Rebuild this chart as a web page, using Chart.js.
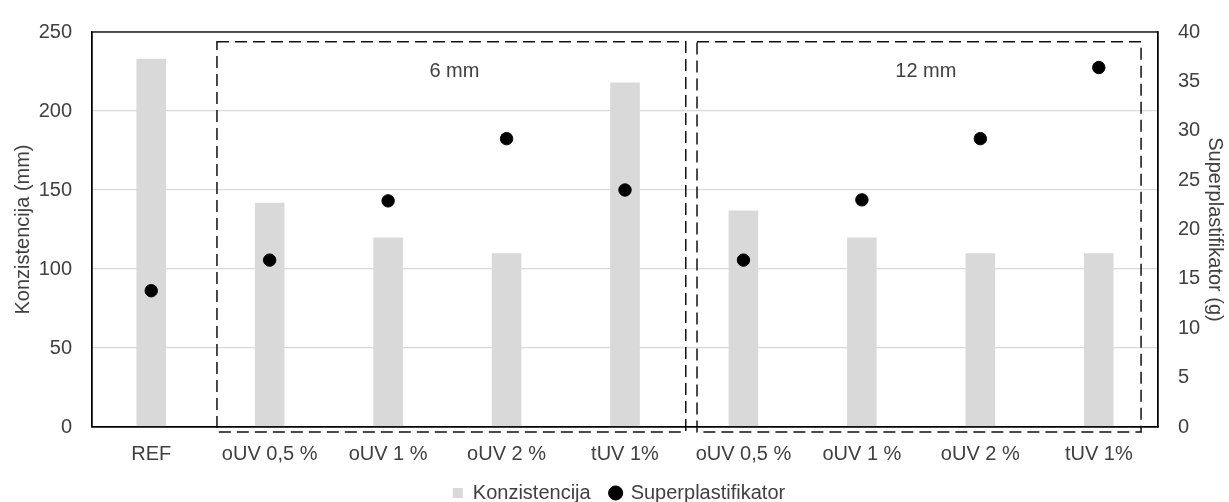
<!DOCTYPE html>
<html>
<head>
<meta charset="utf-8">
<script src="https://cdn.jsdelivr.net/npm/chart.js@4.4.0/dist/chart.umd.min.js"></script>
<style>
  html, body { margin: 0; padding: 0; background: #fff; }
  #wrap { width: 1229px; height: 502px; position: relative; }
</style>
</head>
<body>
<div id="wrap"><canvas id="myChart"></canvas></div>
<script>
// data
const categories = ['REF', 'oUV 0,5 %', 'oUV 1 %', 'oUV 2 %', 'tUV 1%', 'oUV 0,5 %', 'oUV 1 %', 'oUV 2 %', 'tUV 1%'];
const konzistencija = [233, 142, 120, 110, 218, 137, 120, 110, 110];
const superplastifikator = [13.8, 16.9, 22.9, 29.2, 24, 16.9, 23, 29.2, 36.4];
const leftTicks = [0, 250, 50];   // min, max, step
const rightTicks = [0, 40, 5];

// dashed group boxes (category index / left axis units)
const groupNames = ['6 mm', '12 mm'];
const groupFrom = [0.555, 4.608];
const groupTo = [4.513, 8.357];
const groupTop = 243.8;
const groupBottom = -3.2;
const groupLabelAt = [2.56, 6.54];
const groupLabelY = 225;

const textColor = '#404040';
const font = { family: '"Liberation Sans", Arial, sans-serif', size: 20 };

const groupBoxes = {
    id: 'groupBoxes',
    afterDatasetsDraw(chart) {
        const { ctx, scales: { x, y }, chartArea } = chart;
        ctx.save();
        // plot frame
        ctx.strokeStyle = '#000';
        ctx.lineWidth = 1.3;
        ctx.strokeRect(chartArea.left, chartArea.top, chartArea.right - chartArea.left, chartArea.bottom - chartArea.top);

        ctx.setLineDash([12, 6]);
        ctx.lineWidth = 1.5;
        ctx.strokeStyle = '#111';
        groupNames.forEach((name, i) => {
            const x0 = x.getPixelForValue(groupFrom[i]);
            const x1 = x.getPixelForValue(groupTo[i]);
            const y0 = y.getPixelForValue(groupTop);
            const y1 = y.getPixelForValue(groupBottom);
            ctx.strokeRect(x0, y0, x1 - x0, y1 - y0);
        });
        ctx.setLineDash([]);
        ctx.fillStyle = textColor;
        ctx.font = `${font.size}px ${font.family}`;
        ctx.textAlign = 'center';
        ctx.textBaseline = 'middle';
        groupNames.forEach((name, i) => {
            ctx.fillText(name, x.getPixelForValue(groupLabelAt[i]), y.getPixelForValue(groupLabelY));
        });
        ctx.restore();
    }
};

new Chart(document.getElementById('myChart').getContext('2d'), {
    data: {
        labels: categories,
        datasets: [
            {
                type: 'bar',
                label: 'Konzistencija',
                data: konzistencija,
                backgroundColor: '#d9d9d9',
                categoryPercentage: 1,
                barPercentage: 0.25,
                yAxisID: 'y',
                pointStyle: 'rect',
                order: 1,
            },
            {
                type: 'line',
                label: 'Superplastifikator',
                data: superplastifikator,
                showLine: false,
                pointRadius: 6.2,
                pointHoverRadius: 6.2,
                pointBackgroundColor: '#000',
                pointBorderColor: '#000',
                backgroundColor: '#000',
                borderColor: '#000',
                pointStyle: 'circle',
                yAxisID: 'y1',
                order: 0,
            },
        ]
    },
    options: {
        responsive: true,
        maintainAspectRatio: false,
        animation: false,
        layout: { padding: { left: 11, right: 2, top: 25, bottom: 0 } },
        plugins: {
            tooltip: { enabled: false },
            legend: {
                position: 'bottom',
                maxHeight: 39,
                labels: {
                    color: textColor,
                    font,
                    usePointStyle: true,
                    boxHeight: 10,
                    boxWidth: 10,
                    padding: 20,
                    sort: (a, b) => a.datasetIndex - b.datasetIndex,
                }
            }
        },
        scales: {
            x: {
                grid: { display: false, drawTicks: false },
                border: { color: '#000', width: 1.3 },
                ticks: { color: textColor, font, padding: 15, maxRotation: 0, autoSkip: false },
                afterFit: s => { s.height = 36; },
            },
            y: {
                position: 'left',
                min: leftTicks[0],
                max: leftTicks[1],
                ticks: { stepSize: leftTicks[2], color: textColor, font, padding: 20 },
                grid: { color: '#d9d9d9', lineWidth: 1.3, drawTicks: false },
                border: { color: '#000', width: 1.3 },
                title: { display: true, text: 'Konzistencija (mm)', color: textColor, font, padding: 0 },
                afterFit: s => { s.width = 81; },
            },
            y1: {
                position: 'right',
                min: rightTicks[0],
                max: rightTicks[1],
                ticks: { stepSize: rightTicks[2], color: textColor, font, padding: 20 },
                grid: { display: false, drawTicks: false },
                border: { color: '#000', width: 1.3 },
                title: { display: true, text: 'Superplastifikator (g)', color: textColor, font, padding: 0 },
                afterFit: s => { s.width = 69; },
            }
        }
    },
    plugins: [groupBoxes]
});
</script>
</body>
</html>
